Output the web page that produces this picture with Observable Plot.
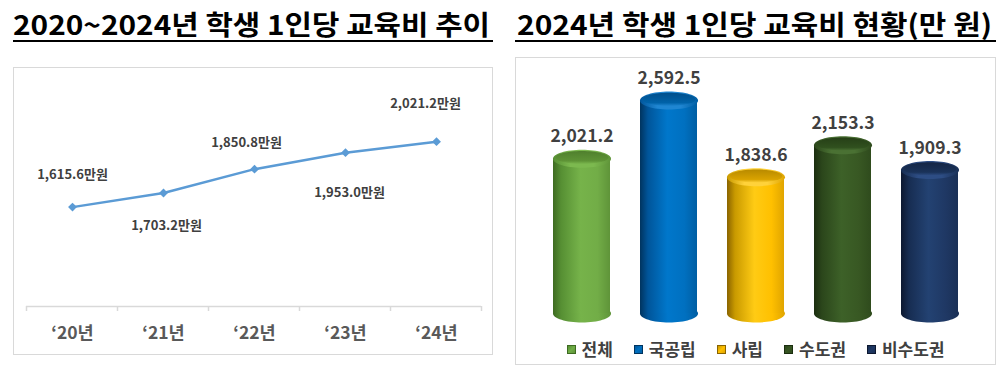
<!DOCTYPE html>
<html><head><meta charset="utf-8">
<script src="https://cdn.jsdelivr.net/npm/d3@7"></script>
<script src="https://cdn.jsdelivr.net/npm/@observablehq/plot@0.6"></script>
<style>
body{margin:0;background:#fff;}
#root{position:relative;width:1007px;height:375px;overflow:hidden;font-family:"Noto Sans CJK KR","Noto Sans",sans-serif;background:#fff;}
.title{position:absolute;top:10px;font-size:27px;line-height:27px;font-weight:700;color:#000;white-space:nowrap;transform-origin:0 0;}
.uline{position:absolute;top:40px;height:2px;background:#000;}
.box{position:absolute;border:1px solid #d9d9d9;box-sizing:border-box;pointer-events:none;}
.chart{position:absolute;}
.legend{position:absolute;display:flex;justify-content:center;align-items:center;gap:21px;font-size:17px;line-height:20px;font-weight:700;color:#404040;}
.legend .item{display:flex;align-items:center;gap:6px;}
.legend .sw{width:9px;height:9px;box-sizing:border-box;}
</style></head>
<body><div id="root"></div>
<script>
// ---------- data ----------
const leftTitle = "2020~2024년 학생 1인당 교육비 추이";
const rightTitle = "2024년 학생 1인당 교육비 현황(만 원)";
const trendYears = ["‘20년", "‘21년", "‘22년", "‘23년", "‘24년"];
const trendValues = [1615.6, 1703.2, 1850.8, 1953.0, 2021.2];
const groupNames = ["전체", "국공립", "사립", "수도권", "비수도권"];
const groupValues = [2021.2, 2592.5, 1838.6, 2153.3, 1909.3];

// ---------- styles / layout ----------
const FONT = '"Noto Sans CJK KR","Noto Sans",sans-serif';
const trendLabelNudge = [[0, -32], [3, 33], [-8, -26], [4, 40], [-11, -38]];
const cylColors = [
  {body: ["#3e6b22", "#568f33", "#76b34a", "#72ad47", "#5f9439"], rim: "#7cb94f", inner: ["#4f7f2d", "#5e9336"], sw: "#70ad47"},
  {body: ["#00345f", "#00559a", "#0077cb", "#0070c0", "#005ea3"], rim: "#1f86d2", inner: ["#004f8c", "#0062a8"], sw: "#0070c0"},
  {body: ["#8a6400", "#c99a00", "#ffcb14", "#ffc000", "#e0a500"], rim: "#ffd23a", inner: ["#b88a00", "#d9a300"], sw: "#ffc000"},
  {body: ["#1b2e10", "#2b461b", "#3d6128", "#385823", "#2f4b1d"], rim: "#4a7133", inner: ["#263f17", "#30501e"], sw: "#375623"},
  {body: ["#0d1830", "#172d52", "#234272", "#1f3864", "#1a3056"], rim: "#2d4d84", inner: ["#142645", "#1a3259"], sw: "#1f3864"}
];

const root = document.getElementById("root");
function el(tag, cls, style, text) {
  const e = document.createElement(tag);
  if (cls) e.className = cls;
  Object.assign(e.style, style || {});
  if (text != null) e.textContent = text;
  return e;
}

// ---------- titles ----------
const titles = [
  {text: leftTitle, left: 13, width: 477, lineLeft: 13, lineWidth: 480},
  {text: rightTitle, left: 517, width: 475, lineLeft: 515, lineWidth: 481}
];
for (const t of titles) {
  const s = el("div", "title", {left: t.left + "px"}, t.text);
  root.appendChild(s);
  const w = s.getBoundingClientRect().width;
  s.style.transform = `scaleX(${t.width / w})`;
  root.appendChild(el("div", "uline", {left: t.lineLeft + "px", width: t.lineWidth + "px"}));
}

// ---------- left: line chart ----------
const trend = trendYears.map((year, i) => ({year, value: trendValues[i]}));
const yMinL = 1000, yMaxL = 2400;
const fmt = d3.format(",.1f");

function boundaryTicks(index, scales) {
  const x = scales.x, y = scales.y;
  const dom = x.domain();
  const step = x.step ? x.step() : (x(dom[1]) - x(dom[0]));
  const xs = dom.map(d => x(d) - step / 2).concat([x(dom[dom.length - 1]) + step / 2]);
  const y0 = y(y.domain()[0]);
  const g = d3.create("svg:g").attr("stroke", "#d9d9d9").attr("stroke-width", 1.5);
  for (const xv of xs) g.append("line").attr("x1", xv).attr("x2", xv).attr("y1", y0).attr("y2", y0 + 5);
  return g.node();
}

const left = Plot.plot({
  width: 480, height: 288,
  marginLeft: 13, marginRight: 12, marginTop: 13, marginBottom: 49,
  x: {type: "point", domain: trendYears, padding: 0.5, tickSize: 0, tickPadding: 20, label: null},
  y: {domain: [yMinL, yMaxL], axis: null},
  style: {fontFamily: FONT, fontSize: "17.5px", fontWeight: "700", color: "#595959", background: "white", overflow: "visible"},
  marks: [
    Plot.ruleY([yMinL], {stroke: "#d9d9d9", strokeWidth: 1.5}),
    boundaryTicks,
    Plot.line(trend, {x: "year", y: "value", stroke: "#5B9BD5", strokeWidth: 2.5}),
    Plot.dot(trend, {x: "year", y: "value", symbol: "diamond2", r: 4, fill: "#5B9BD5", stroke: "none"}),
    ...trend.map((d, i) => Plot.text([d], {
      x: "year", y: "value", text: d => fmt(d.value) + "만원",
      dx: trendLabelNudge[i][0], dy: trendLabelNudge[i][1],
      fontSize: 13, fontWeight: "bold", fill: "#404040"
    }))
  ]
});
Object.assign(left.style, {position: "absolute", left: "13px", top: "67px"});
root.appendChild(left);
root.appendChild(el("div", "box", {left: "13px", top: "67px", width: "480px", height: "288px"}));

// ---------- right: cylinder bar chart ----------
const groups = groupNames.map((name, i) => ({name, value: groupValues[i], i}));
const yMinR = 500, yMaxR = 2800;
const RX = 29, RY_RATIO = 9 / 29;

function ellipseSymbol(ratio, dy) {
  return {
    draw(ctx, size) {
      const rx = Math.sqrt(size / Math.PI), ry = rx * ratio, k = 0.5523, c = dy;
      ctx.moveTo(rx, c);
      ctx.bezierCurveTo(rx, c + k * ry, k * rx, c + ry, 0, c + ry);
      ctx.bezierCurveTo(-k * rx, c + ry, -rx, c + k * ry, -rx, c);
      ctx.bezierCurveTo(-rx, c - k * ry, -k * rx, c - ry, 0, c - ry);
      ctx.bezierCurveTo(k * rx, c - ry, rx, c - k * ry, rx, c);
      ctx.closePath();
    }
  };
}

const right = Plot.plot({
  width: 481, height: 308,
  marginLeft: 6, marginRight: 6, marginTop: 22, marginBottom: 52,
  x: {type: "band", domain: groupNames, padding: 0.34, axis: null},
  y: {domain: [yMinR, yMaxR], axis: null},
  color: {type: "identity"},
  style: {fontFamily: FONT, background: "white", overflow: "visible"},
  marks: [
    Plot.dot(groups, {x: "name", y: yMinR, symbol: ellipseSymbol(RY_RATIO, 0), r: RX, fill: d => `url(#cylBody${d.i})`, stroke: "none"}),
    Plot.barY(groups, {x: "name", y1: yMinR, y2: "value", fill: d => `url(#cylBody${d.i})`}),
    Plot.dot(groups, {x: "name", y: "value", symbol: ellipseSymbol(RY_RATIO, 0), r: RX, fill: d => `url(#cylRim${d.i})`, stroke: "none"}),
    Plot.dot(groups, {x: "name", y: "value", symbol: ellipseSymbol(6.6 / 26.5, -1.2), r: 26.5, fill: d => `url(#cylTop${d.i})`, stroke: "none"}),
    Plot.text(groups, {x: "name", y: "value", text: d => fmt(d.value), dy: -22, fontSize: 17.5, fontWeight: "bold", fill: "#404040"})
  ]
});
const defs = d3.select(right).insert("defs", ":first-child");
cylColors.forEach((c, i) => {
  const b = defs.append("linearGradient").attr("id", `cylBody${i}`).attr("x1", 0).attr("x2", 1).attr("y1", 0).attr("y2", 0);
  [0, 0.14, 0.48, 0.78, 1].forEach((o, j) => b.append("stop").attr("offset", o).attr("stop-color", c.body[j]));
  const r = defs.append("linearGradient").attr("id", `cylRim${i}`).attr("x1", 0).attr("x2", 1).attr("y1", 0).attr("y2", 0);
  [[0, c.body[1]], [0.3, c.rim], [0.7, c.rim], [1, c.body[4]]].forEach(([o, col]) => r.append("stop").attr("offset", o).attr("stop-color", col));
  const t = defs.append("linearGradient").attr("id", `cylTop${i}`).attr("x1", 0).attr("x2", 0).attr("y1", 0).attr("y2", 1);
  [[0, c.inner[0]], [0.75, c.inner[1]], [1, c.rim]].forEach(([o, col]) => t.append("stop").attr("offset", o).attr("stop-color", col));
});
Object.assign(right.style, {position: "absolute", left: "515px", top: "57px"});
root.appendChild(right);
root.appendChild(el("div", "box", {left: "515px", top: "57px", width: "481px", height: "308px"}));

// ---------- legend ----------
const legend = el("div", "legend", {left: "515px", width: "481px", top: "339px", height: "20px"});
groupNames.forEach((name, i) => {
  const item = el("div", "item");
  const c = cylColors[i];
  item.appendChild(el("div", "sw", {background: `linear-gradient(135deg, ${c.body[1]}, ${c.sw} 50%, ${c.body[4]})`, border: `1px solid ${c.body[0]}`}));
  item.appendChild(el("span", null, {}, name));
  legend.appendChild(item);
});
root.appendChild(legend);
</script>
</body></html>
